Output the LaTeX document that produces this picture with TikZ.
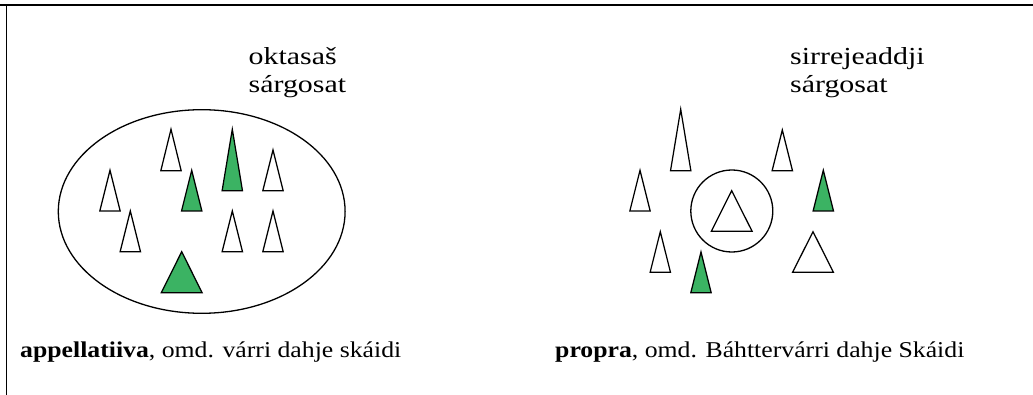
\documentclass[tikz,border=0pt]{standalone}
\usepackage{fontspec}
\setmainfont{Liberation Serif}
\usepackage{graphicx}
\definecolor{leaf}{RGB}{59,179,99}
\tikzset{
  tri/.style={draw=black, line width=1.25pt, line join=miter},
  lbl/.style={inner sep=0pt, anchor=base west, font=\fontsize{24.5}{28}\selectfont},
  captxt/.style={inner sep=0pt, anchor=base west, font=\fontsize{22.6}{26}\selectfont},
  ring/.style={draw=black, line width=1.3pt}
}
\newcommand{\tri}[5]{\draw[tri, fill=#5] (#1,#2) -- ++(#3,#4) -- ++({-2*#3},0) -- cycle;}
\begin{document}
\begin{tikzpicture}[x=1pt,y=-1pt]
\useasboundingbox (0,0) rectangle (1033,395);
% frame
\draw[line width=2.2pt] (0,5) coordinate (ftl) -- (1033,5) coordinate (ftr);
\draw[line width=1.3pt] (6.5,5) coordinate (fl1) -- (6.5,395) coordinate (fl2);

% left panel
\draw[ring] (201.7,211.5) ellipse [x radius=143.4, y radius=101.8];
\tri{171}{129.3}{10.17}{41.4}{white}
\tri{232.3}{129.3}{10.17}{61.4}{leaf}
\tri{273}{150}{10.17}{40.7}{white}
\tri{110}{170.3}{10.17}{40.7}{white}
\tri{191.7}{170.3}{10.17}{40.7}{leaf}
\tri{130.3}{211}{10.17}{40.7}{white}
\tri{232.3}{211}{10.17}{40.7}{white}
\tri{273}{211}{10.17}{40.7}{white}
\tri{181.7}{251.7}{20.4}{41}{leaf}

% right panel
\draw[ring] (731.8,211) circle [radius=41];
\tri{680.7}{109.3}{10.17}{61.4}{white}
\tri{782.3}{130}{10.17}{40.7}{white}
\tri{640}{170.3}{10.17}{40.7}{white}
\tri{823.3}{170.3}{10.17}{40.7}{leaf}
\tri{731.7}{190.7}{20.4}{40.6}{white}
\tri{660.3}{231.7}{10.17}{40.6}{white}
\tri{701}{252}{10.17}{40.7}{leaf}
\tri{813}{231.7}{20.4}{40.6}{white}

% headings
\node[lbl] (lh1) at (248.5,64.5) {\scalebox{1.22}[1]{oktasaš}};
\node[lbl] (lh2) at (248.5,92.5) {\scalebox{1.22}[1]{sárgosat}};
\node[lbl] (rh1) at (790,64.5) {\scalebox{1.22}[1]{sirrejeaddji}};
\node[lbl] (rh2) at (790,92.5) {\scalebox{1.22}[1]{sárgosat}};

% captions
\node[captxt] (lc) at (20,357.5) {\scalebox{1.139}[1]{\textbf{appellatiiva}, omd. várri dahje skáidi}};
\node[captxt] (rc) at (555,357.5) {\scalebox{1.139}[1]{\textbf{propra}, omd. Báhttervárri dahje Skáidi}};
\end{tikzpicture}
\end{document}
